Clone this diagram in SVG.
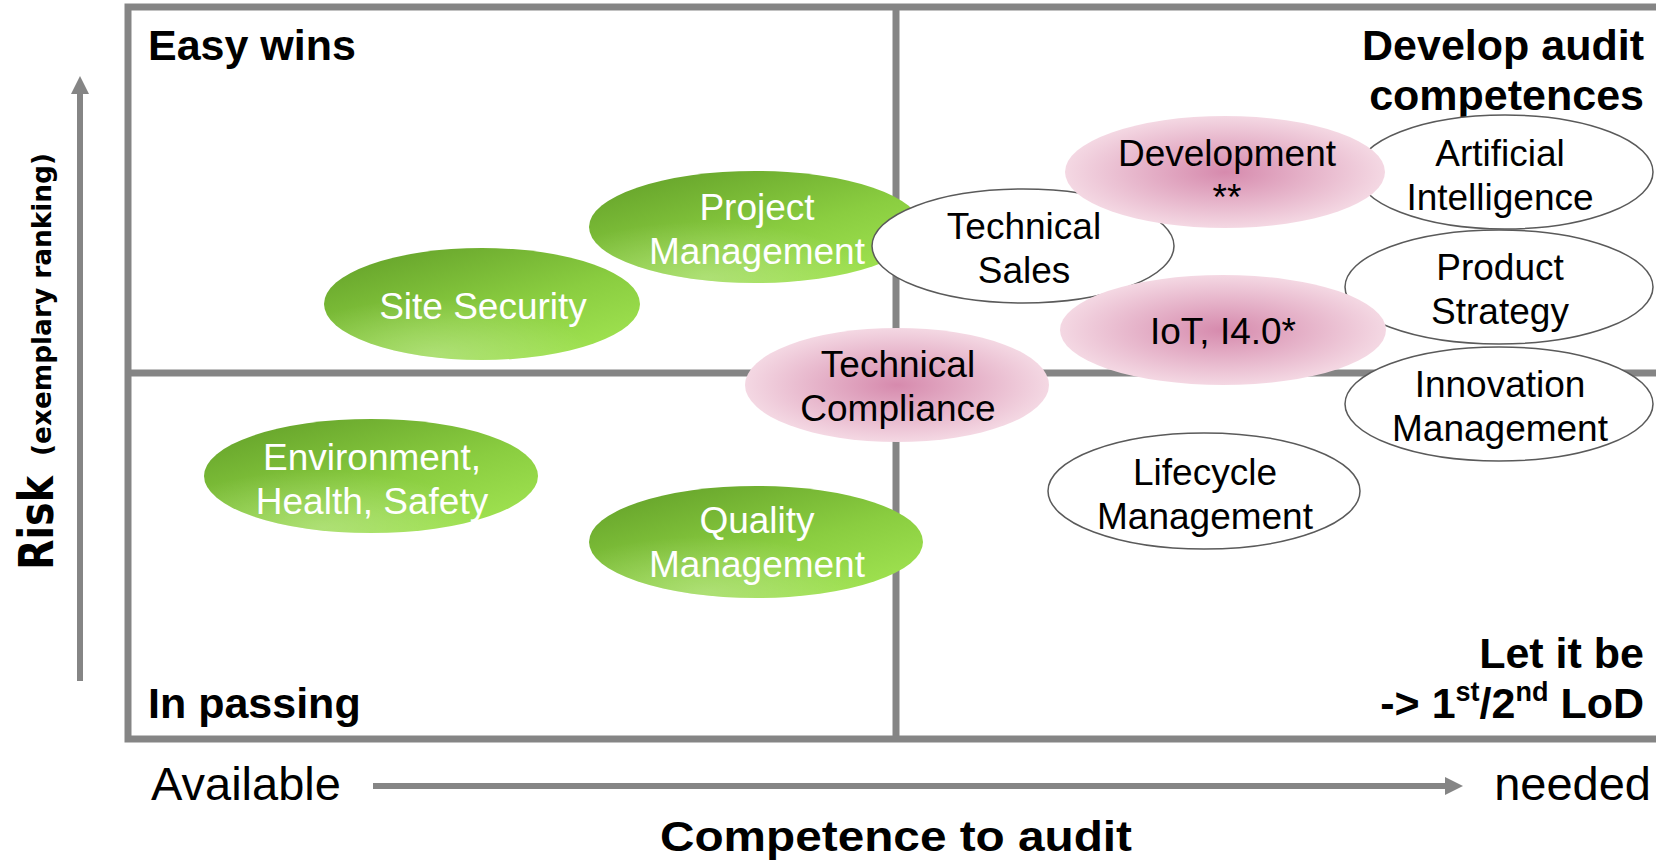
<svg xmlns="http://www.w3.org/2000/svg" width="1656" height="864" viewBox="0 0 1656 864">
<defs>
<linearGradient id="gGreen" x1="0.1" y1="0" x2="0.9" y2="1">
<stop offset="0" stop-color="#63a029"/>
<stop offset="0.55" stop-color="#8acd40"/>
<stop offset="1" stop-color="#a3e653"/>
</linearGradient>
<radialGradient id="gGreenShine" cx="0.35" cy="0.95" r="0.5">
<stop offset="0" stop-color="#ffffff" stop-opacity="0.25"/>
<stop offset="1" stop-color="#ffffff" stop-opacity="0"/>
</radialGradient>
<radialGradient id="gPink" cx="0.5" cy="0.5" r="0.5">
<stop offset="0" stop-color="#d68aad"/>
<stop offset="1" stop-color="#f4d8e3"/>
</radialGradient>
<marker id="arrow" viewBox="0 0 18 18" refX="0" refY="9" markerWidth="18" markerHeight="18" markerUnits="userSpaceOnUse" orient="auto">
<path d="M0,0 L18,9 L0,18 z" fill="#858585"/>
</marker>
<style>
.frame{fill:none;stroke:#858585;stroke-width:7}
.axis{stroke:#858585;stroke-width:6;fill:none}
.green{fill:url(#gGreen)}
.shine{fill:url(#gGreenShine)}
.pink{fill:url(#gPink)}
.white{fill:#ffffff;stroke:#5a5a5a;stroke-width:1.5}
.lbl{font-family:"Liberation Sans",Arial,sans-serif;font-size:37px;text-anchor:middle}
.lw{fill:#ffffff}
.lb{fill:#000000}
.title{font-family:"Liberation Sans",Arial,sans-serif;font-size:43px;font-weight:bold;fill:#000000}
.axl{font-family:"Liberation Sans",Arial,sans-serif;font-size:47px;fill:#000000}
</style>
</defs>
<rect width="1656" height="864" fill="#ffffff"/>

<g id="frame">
<rect class="frame" x="128" y="7" width="1620" height="732"/>
<line class="frame" x1="896" y1="7" x2="896" y2="739"/>
<line class="frame" x1="128" y1="373" x2="1700" y2="373"/>
</g>

<g id="connectors">
<line class="axis" x1="80" y1="681" x2="80" y2="94" marker-end="url(#arrow)"/>
<line class="axis" x1="373" y1="786" x2="1445" y2="786" marker-end="url(#arrow)"/>
</g>

<g id="labels">
<text class="title" x="148" y="60">Easy wins</text>
<text class="title" x="1644" y="60" text-anchor="end">Develop audit</text>
<text class="title" x="1644" y="110" text-anchor="end">competences</text>
<text class="title" x="148" y="718">In passing</text>
<text class="title" x="1644" y="668" text-anchor="end">Let it be</text>
<text class="title" x="1644" y="718" text-anchor="end">-&gt; 1<tspan font-size="27" dy="-17">st</tspan><tspan dy="17">/2</tspan><tspan font-size="27" dy="-17">nd</tspan><tspan dy="17"> LoD</tspan></text>
<text class="axl" x="151" y="800">Available</text>
<text class="axl" x="1651" y="800" text-anchor="end">needed</text>
<text class="title" x="660" y="851" font-size="48" textLength="472" lengthAdjust="spacingAndGlyphs">Competence to audit</text>
<g transform="translate(53,570) rotate(-90)">
<text x="0" y="0" font-family="'DejaVu Sans',Verdana,sans-serif" font-weight="bold" font-size="48" textLength="94" lengthAdjust="spacingAndGlyphs">Risk</text>
<text x="114" y="-2" font-family="'DejaVu Sans',Verdana,sans-serif" font-weight="bold" font-size="27" textLength="303" lengthAdjust="spacingAndGlyphs">(exemplary ranking)</text>
</g>
</g>

<g id="node-site-security">
<ellipse class="green" cx="482" cy="304" rx="158" ry="56"/>
<ellipse class="shine" cx="482" cy="304" rx="158" ry="56"/>
<text class="lbl lw" x="483" y="319">Site Security</text>
</g>

<g id="node-project-management">
<ellipse class="green" cx="755" cy="227" rx="166" ry="56"/>
<ellipse class="shine" cx="755" cy="227" rx="166" ry="56"/>
<text class="lbl lw" x="757" y="220">Project</text>
<text class="lbl lw" x="757" y="264">Management</text>
</g>

<g id="node-ehs">
<ellipse class="green" cx="371" cy="476" rx="167" ry="57"/>
<ellipse class="shine" cx="371" cy="476" rx="167" ry="57"/>
<text class="lbl lw" x="372" y="470">Environment,</text>
<text class="lbl lw" x="372" y="514">Health, Safety</text>
</g>

<g id="node-quality-management">
<ellipse class="green" cx="756" cy="542" rx="167" ry="56"/>
<ellipse class="shine" cx="756" cy="542" rx="167" ry="56"/>
<text class="lbl lw" x="757" y="533">Quality</text>
<text class="lbl lw" x="757" y="577">Management</text>
</g>

<g id="node-technical-compliance">
<ellipse class="pink" cx="897" cy="385" rx="152" ry="57"/>
<text class="lbl lb" x="898" y="377">Technical</text>
<text class="lbl lb" x="898" y="421">Compliance</text>
</g>

<g id="node-technical-sales">
<ellipse class="white" cx="1023" cy="246" rx="151" ry="57"/>
<text class="lbl lb" x="1024" y="239">Technical</text>
<text class="lbl lb" x="1024" y="283">Sales</text>
</g>

<g id="node-artificial-intelligence">
<ellipse class="white" cx="1505" cy="172" rx="148" ry="57"/>
<text class="lbl lb" x="1500" y="166">Artificial</text>
<text class="lbl lb" x="1500" y="210">Intelligence</text>
</g>

<g id="node-development">
<ellipse class="pink" cx="1225" cy="172" rx="160" ry="56"/>
<text class="lbl lb" x="1227" y="166">Development</text>
<text class="lbl lb" x="1227" y="210">**</text>
</g>

<g id="node-product-strategy">
<ellipse class="white" cx="1499" cy="287" rx="154" ry="57"/>
<text class="lbl lb" x="1500" y="280">Product</text>
<text class="lbl lb" x="1500" y="324">Strategy</text>
</g>

<g id="node-innovation-management">
<ellipse class="white" cx="1499" cy="404" rx="154" ry="57"/>
<text class="lbl lb" x="1500" y="397">Innovation</text>
<text class="lbl lb" x="1500" y="441">Management</text>
</g>

<g id="node-iot">
<ellipse class="pink" cx="1223" cy="330" rx="163" ry="55"/>
<text class="lbl lb" x="1223" y="344">IoT, I4.0*</text>
</g>

<g id="node-lifecycle-management">
<ellipse class="white" cx="1204" cy="491" rx="156" ry="58"/>
<text class="lbl lb" x="1205" y="485">Lifecycle</text>
<text class="lbl lb" x="1205" y="529">Management</text>
</g>
</svg>
